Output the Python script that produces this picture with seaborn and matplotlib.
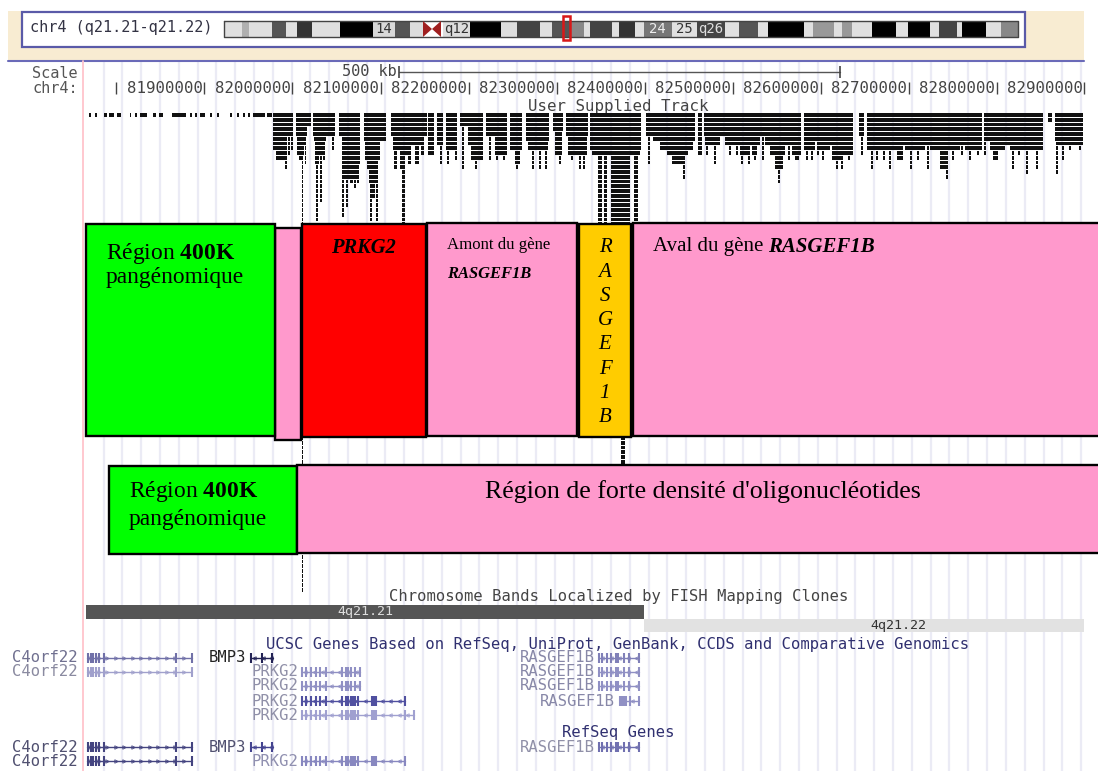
# Genome browser view of chr4 q21 with the annotated regions on top
import numpy as np
import pandas as pd
import matplotlib.pyplot as plt
import seaborn as sns

sns.set_theme(style="white")
plt.rcParams["font.family"] = ["DejaVu Sans Mono"]
plt.rcParams["mathtext.fontset"] = "custom"
plt.rcParams["mathtext.rm"] = "Liberation Serif"
plt.rcParams["mathtext.bf"] = "Liberation Serif:bold"
plt.rcParams["mathtext.it"] = "Liberation Serif:italic"

SERIF = "Liberation Serif"

# Ideogram bands: start, end, grey shade
band_start = [224, 242, 249, 272, 286, 297, 312, 340, 373, 395, 410, 443, 470, 499, 501, 517, 540,
              552, 571, 584, 590, 612, 619, 635, 644, 672, 697, 725, 739, 758, 768, 804, 813, 834,
              842, 852, 872, 896, 908, 930, 939, 957, 962, 986, 1001]
band_end = [242, 249, 272, 286, 297, 312, 340, 373, 395, 410, 423, 470, 499, 501, 517, 540, 552,
            571, 584, 590, 612, 619, 635, 644, 672, 697, 725, 739, 758, 768, 804, 813, 834, 842,
            852, 872, 896, 908, 930, 939, 957, 962, 986, 1001, 1018]
band_color = ["#e0e0e0", "#b0b0b0", "#e0e0e0", "#555555", "#e0e0e0", "#333333", "#e0e0e0", "#000000",
              "#d8d8d8", "#555555", "#dddddd", "#dddddd", "#000000", "#000000", "#dddddd", "#444444",
              "#e0e0e0", "#555555", "#888888", "#e0e0e0", "#444444", "#e0e0e0", "#333333", "#e0e0e0",
              "#777777", "#e0e0e0", "#444444", "#e0e0e0", "#555555", "#e0e0e0", "#000000", "#e0e0e0",
              "#999999", "#e0e0e0", "#999999", "#e0e0e0", "#000000", "#e0e0e0", "#000000", "#e0e0e0",
              "#444444", "#e0e0e0", "#000000", "#e0e0e0", "#888888"]
band_labels = ["14", "q12", "24", "25", "q26"]
band_label_x = [384, 457, 657, 684, 711]
band_label_color = ["#333333", "#333333", "#eeeeee", "#333333", "#dddddd"]

# Position ruler
ruler_labels = ["81900000", "82000000", "82100000", "82200000", "82300000", "82400000",
                "82500000", "82600000", "82700000", "82800000", "82900000"]
ruler_x = [204, 292, 381, 469, 557, 645, 733, 821, 909, 997, 1084]

sparse_start = [89, 95, 104, 109, 117, 130, 135, 140, 153, 159, 172, 190, 195, 200, 210, 217, 230,
                237, 243, 248, 253, 260, 267]
sparse_end = [91, 97, 107, 114, 121, 131, 137, 147, 156, 163, 186, 192, 197, 205, 212, 219, 232,
              239, 245, 250, 260, 265, 272]

track = [
    (273, 293, 5), (273, 287, 8), (276, 285, 10), (285, 287, 12), (288, 290, 9), (291, 293, 8),
    (296, 311, 3), (296, 307, 5), (297, 306, 7), (297, 304, 9), (299, 303, 10), (301.5, 303, 101),
    (305, 306, 11),
    (313, 330, 5), (314, 326, 6), (315, 319, 11), (319, 325, 9), (316, 318, 23), (320, 322, 19),
    (323, 325, 10), (330, 335, 5), (332, 334, 8),
    (339, 360, 5), (343, 360, 9), (347, 360, 11), (342, 359, 14), (342, 344, 22), (346, 348, 20),
    (350, 353, 15), (354, 356, 16), (357, 359, 15),
    (364, 386, 6), (365, 380, 10), (367, 378, 12), (369, 377, 15), (370, 372, 23), (376, 378, 23),
    (372, 375, 18),
    (391, 420, 5), (393, 410, 8), (394, 397, 12), (400, 403, 12),
    (400, 427, 5), (400, 422, 7), (400, 410, 9), (402, 405, 24), (408, 411, 11), (415, 419, 11),
    (421, 424, 9),
    (428, 434, 9), (437, 443, 7), (440, 442, 11), (446, 457, 8), (447, 449, 11), (455, 457, 10),
    (460, 483, 3), (462, 464, 12), (468, 483, 7), (471, 483, 10), (475, 477, 12),
    (486, 507, 5), (495, 507, 9), (489, 491, 10), (496, 498, 10), (503, 505, 10),
    (510, 522, 8), (515, 520, 11), (516, 518, 12),
    (526, 549, 6), (528, 548, 8), (532, 534, 12), (539, 541, 12), (545, 547, 12),
    (553, 563, 4), (555, 562, 9), (559, 561, 11),
    (566, 588, 5), (568, 587, 9), (571, 573, 10), (579, 581, 12), (583, 585, 12),
    (590, 641, 8), (592, 640, 9), (598, 602, 24), (604, 607, 24), (611, 630, 24), (621, 625, 75),
    (634, 638, 24),
    (646, 695, 5), (653, 695, 6), (660, 693, 8), (667, 688, 9), (672, 685, 11), (648, 650, 11),
    (683, 685, 14), (698, 702, 9),
    (704, 740, 5), (705, 720, 7), (725, 740, 7), (706, 708, 9), (714, 716, 11), (729, 731, 9),
    (736, 738, 9),
    (740, 801, 5), (740, 760, 7), (765, 801, 7), (740, 750, 9), (752, 757, 9), (770, 785, 9),
    (792, 801, 9), (741, 743, 11), (748, 750, 11),
    (754, 756, 10), (762, 764, 10), (775, 783, 12), (778, 780, 15), (788, 790, 10), (795, 799, 10),
    (804, 853, 6), (804, 815, 8), (818, 830, 8), (835, 853, 9), (822, 843, 7), (806, 808, 10),
    (811, 813, 10), (817, 819, 9), (822, 824, 10),
    (832, 842, 10), (836, 838, 12), (841, 843, 12), (848, 850, 10),
    (859, 864, 5), (861, 863, 9),
    (867, 982, 6), (868, 907, 7), (912, 973, 7), (867, 900, 8), (905, 925, 8), (930, 960, 8),
    (965, 982, 8), (871, 873, 12), (876, 878, 10),
    (883, 885, 10), (889, 891, 12), (897, 903, 10), (910, 912, 12), (917, 919, 10), (927, 929, 12),
    (940, 948, 12), (946, 948, 14), (952, 954, 10), (961, 963, 9), (969, 971, 10), (977, 979, 9),
    (984, 1043, 6), (992, 1043, 7), (990, 1005, 8), (1010, 1043, 8), (984, 986, 9), (993, 998, 10),
    (1012, 1014, 12), (1018, 1020, 9), (1026, 1028, 13), (1036, 1038, 12),
    (1048, 1052, 2), (1055, 1083, 6), (1057, 1083, 7), (1056, 1058, 13), (1062, 1064, 10),
    (1069, 1071, 8), (1079, 1081, 8),
]

# Coloured regions laid over the track
box_left = [275, 86, 302, 427, 579, 633, 109, 297]
box_right = [301, 275, 426, 577, 631, 1100, 297, 1100]
box_top = [228, 224, 224, 223, 224, 223, 466, 465]
box_bottom = [440, 436, 437, 436, 437, 436, 554, 553]
box_color = ["#ff99cc", "#00ff00", "#ff0000", "#ff99cc", "#ffcc00", "#ff99cc", "#00ff00", "#ff99cc"]

vertical_letters = ["R", "A", "S", "G", "E", "F", "1", "B"]

# Gene models
gene_names = ["C4orf22", "C4orf22", "BMP3", "PRKG2", "PRKG2", "PRKG2", "PRKG2",
              "RASGEF1B", "RASGEF1B", "RASGEF1B", "RASGEF1B",
              "C4orf22", "C4orf22", "BMP3", "PRKG2", "RASGEF1B"]
gene_row = [658, 672, 658, 672, 686, 701, 715, 658, 672, 686, 701, 747, 761, 747, 761, 747]
gene_start = [87, 87, 251, 302, 302, 302, 302, 599, 599, 599, 620, 87, 87, 251, 302, 599]
gene_end = [192, 192, 273, 360, 360, 405, 414, 639, 639, 639, 639, 192, 192, 273, 405, 639]
gene_label_end = [78, 78, 246, 298, 298, 298, 298, 595, 595, 595, 615, 78, 78, 246, 298, 595]
gene_color = ["#7070a8", "#a0a0cc", "#222255", "#9090c4", "#9090c4", "#5050a0", "#a0a0d0",
              "#8080b8", "#9090c4", "#9090c4", "#9090c4", "#444480", "#444480", "#444490", "#8888c0", "#7070b0"]
label_color = ["#707090", "#8a8aa0", "#222222", "#9090a8", "#9090a8", "#9090a8", "#9090a8",
               "#8888a8", "#8888a8", "#8888a8", "#8888a8", "#505070", "#505070", "#505070", "#9090b0", "#9090a8"]

c4_exons = [88, 91, 93, 96, 99, 104, 176, 192]
bmp_exons = [251, 262, 272]
prkg_short = [302, 306, 311, 316, 320, 326, 342, 346, 348, 351, 355, 360]
prkg_long = [302, 306, 311, 316, 320, 326, 342, 346, 348, 351, 353, 355, 358, 372, 374, 376, 405]
prkg_longest = [302, 306, 311, 316, 320, 326, 342, 346, 348, 351, 353, 355, 358, 372, 374, 376, 405, 414]
ras_exons = [599, 602, 607, 611, 616, 618, 624, 629, 639]
ras_short = [620, 622, 624, 626, 630, 639]
gene_exons = [c4_exons, c4_exons, bmp_exons, prkg_short, prkg_short, prkg_long, prkg_longest,
              ras_exons, ras_exons, ras_exons, ras_short,
              c4_exons, c4_exons, bmp_exons, prkg_long, ras_exons]

fig, ax = plt.subplots(figsize=(10.98, 7.71), dpi=100)
fig.subplots_adjust(left=0, right=1, top=1, bottom=0)
ax.set_xlim(0, 1098)
ax.set_ylim(771, 0)

# Browser grid comes from the axis ticks
ax.set_xticks(np.arange(103.5, 1085, 18.8))
ax.tick_params(length=0, labelbottom=False, labelleft=False)
ax.grid(axis="x", color="#ebebf5", lw=1.6)
ax.set_axisbelow(True)
ax.set_yticks([])

# Header strip
ax.bar(546, 50, width=1076, bottom=11, color="#f8ecd2", edgecolor="none", zorder=1)
ax.bar(546, 11, width=1098, bottom=0, color="white", edgecolor="none", zorder=1)
ax.bar(523.5, 35, width=1003, bottom=11.5, color="white", edgecolor="#5a5aa8", lw=1.6, zorder=1.2)
ax.plot([8, 1084], [61, 61], color="#6a6ab8", lw=1.5, zorder=1.3)
ax.plot([82.5, 82.5], [61, 771], color="#ffc4cc", lw=1.3, zorder=1.3)

band_left = np.array(band_start)
ax.bar(band_left, 16, width=np.array(band_end) - band_left, bottom=21, align="edge",
       color=band_color, edgecolor="none", zorder=2)
ax.plot([224, 1018, 1018, 224, 224], [21, 21, 37, 37, 21], color="#444444", lw=1, zorder=2.1)
ax.fill([423, 432, 423], [21, 29, 37], color="#a02020", edgecolor="none", zorder=2.2)
ax.fill([441, 432, 441], [21, 29, 37], color="#a02020", edgecolor="none", zorder=2.2)
ax.bar(566.5, 24, width=7, bottom=15.5, color="none", edgecolor="#d81818", lw=1.8, zorder=2.3)
for label, x, col in zip(band_labels, band_label_x, band_label_color):
    ax.text(x, 29, label, ha="center", va="center", fontsize=10, color=col, zorder=2.4)

ax.text(30, 27.5, "chr4 (q21.21-q21.22)", ha="left", va="center", fontsize=11, color="#333344", zorder=2.4)
ax.text(78, 73, "Scale", ha="right", va="center", fontsize=11, color="#555555")
ax.text(78, 88.5, "chr4:", ha="right", va="center", fontsize=11, color="#555555")
ax.text(397, 71.5, "500 kb", ha="right", va="center", fontsize=11, color="#444444")
ax.plot([399, 840], [72, 72], color="#555555", lw=1)
ax.vlines([399, 840], 66, 78, color="#444444", lw=1.2)

# Ruler
ax.vlines([116] + ruler_x, 82, 94, color="#444444", lw=1)
for label, x in zip(ruler_labels, ruler_x):
    ax.text(x - 1.5, 88.5, label, ha="right", va="center", fontsize=11.3, color="#444444")
ax.text(618, 106, "User Supplied Track", ha="center", va="center", fontsize=11.3, color="#444444")

# Track drawn row by row
row_gap = 4.75
for row in range(102):
    y = 115 + row * row_gap
    ranges = [(s, e - s) for s, e, d in track if d > row]
    if row == 0:
        ranges += [(s, e - s) for s, e in zip(sparse_start, sparse_end)]
    if ranges:
        ax.broken_barh(ranges, (y - 1.85, 3.7), facecolors="#111111", edgecolor="none", zorder=3)

# Coloured regions
left = np.array(box_left)
right = np.array(box_right)
top = np.array(box_top)
bottom = np.array(box_bottom)
ax.bar(left, bottom - top, width=right - left, bottom=top, align="edge", color=box_color,
       edgecolor="black", lw=1.7, zorder=4)

ax.text(106, 253, r"Région $\mathbf{400K}$", family=SERIF, math_fontfamily="custom", fontsize=16.9,
        color="black", va="center", zorder=5)
ax.text(106, 278, "pangénomique", family=SERIF, fontsize=16.9, color="black", va="center", zorder=5)
ax.text(129, 492, r"Région $\mathbf{400K}$", family=SERIF, math_fontfamily="custom", fontsize=16.9,
        color="black", va="center", zorder=5)
ax.text(129, 520, "pangénomique", family=SERIF, fontsize=16.9, color="black", va="center", zorder=5)
ax.text(331, 248, "PRKG2", family=SERIF, fontsize=14.8, style="italic", weight="bold", color="black",
        va="center", zorder=5)
ax.text(447, 245, "Amont du gène", family=SERIF, fontsize=12.1, color="black", va="center", zorder=5)
ax.text(447, 274, "RASGEF1B", family=SERIF, fontsize=11.9, style="italic", weight="bold", color="black",
        va="center", zorder=5)
ax.text(653, 247, "Aval du gène", family=SERIF, fontsize=15, color="black", va="center", zorder=5)
ax.text(768, 247, "RASGEF1B", family=SERIF, fontsize=15, style="italic", weight="bold", color="black",
        va="center", zorder=5)
ax.text(485, 492, "Région de forte densité d'oligonucléotides", family=SERIF, fontsize=18.6,
        color="black", va="center", zorder=5)
for i, letter in enumerate(vertical_letters):
    ax.text(605, 248 + i * 24.2, letter, family=SERIF, fontsize=15, style="italic", color="black",
            ha="center", va="center", zorder=5)

# Cytogenetic bands
ax.bar(365, 14, width=558, bottom=604.5, color="#555555", edgecolor="none", zorder=2)
ax.bar(864, 13, width=440, bottom=619, color="#e2e2e2", edgecolor="none", zorder=2)
ax.text(365, 611, "4q21.21", ha="center", va="center", fontsize=9.6, color="#dddddd", zorder=3)
ax.text(898, 625, "4q21.22", ha="center", va="center", fontsize=9.6, color="#333333", zorder=3)
ax.text(618.5, 596, "Chromosome Bands Localized by FISH Mapping Clones", ha="center", va="center",
        fontsize=11.15, color="#444444")
ax.text(618, 644, "UCSC Genes Based on RefSeq, UniProt, GenBank, CCDS and Comparative Genomics",
        ha="center", va="center", fontsize=11.15, color="#303070")
ax.text(618.5, 733, "RefSeq Genes", ha="center", va="center", fontsize=11.15, color="#303070")

# Gene backbones with seaborn, exons on top
genes = pd.DataFrame({
    "gene": [i for i in range(len(gene_names)) for _ in range(2)],
    "x": [v for pair in zip(gene_start, gene_end) for v in pair],
    "y": [v for pair in zip(gene_row, gene_row) for v in pair],
})
sns.lineplot(data=genes, x="x", y="y", hue="gene", palette=gene_color, units="gene", estimator=None,
             sort=False, legend=False, lw=1, ax=ax, zorder=3)
for name, row, start, end, label_end, col, lab_col, exons in zip(
        gene_names, gene_row, gene_start, gene_end, gene_label_end, gene_color, label_color, gene_exons):
    ax.vlines(exons, row - 5, row + 5, color=col, lw=1.5, zorder=3)
    ax.text(label_end, row, name, ha="right", va="center", fontsize=11.2, color=lab_col)
    arrow = ">" if name == "C4orf22" else "<"
    chevrons = np.arange(start + 3, end, 8.5)
    ax.plot(chevrons, [row] * len(chevrons), ls="none",
            marker=arrow, ms=2.5, mfc="none", mec=col, mew=0.6, zorder=3)

ax.set_xlabel("")
ax.set_ylabel("")
ax.set_xlim(0, 1098)
ax.set_ylim(771, 0)
sns.despine(ax=ax, left=True, bottom=True)

fig.savefig("out.png", dpi=100)
